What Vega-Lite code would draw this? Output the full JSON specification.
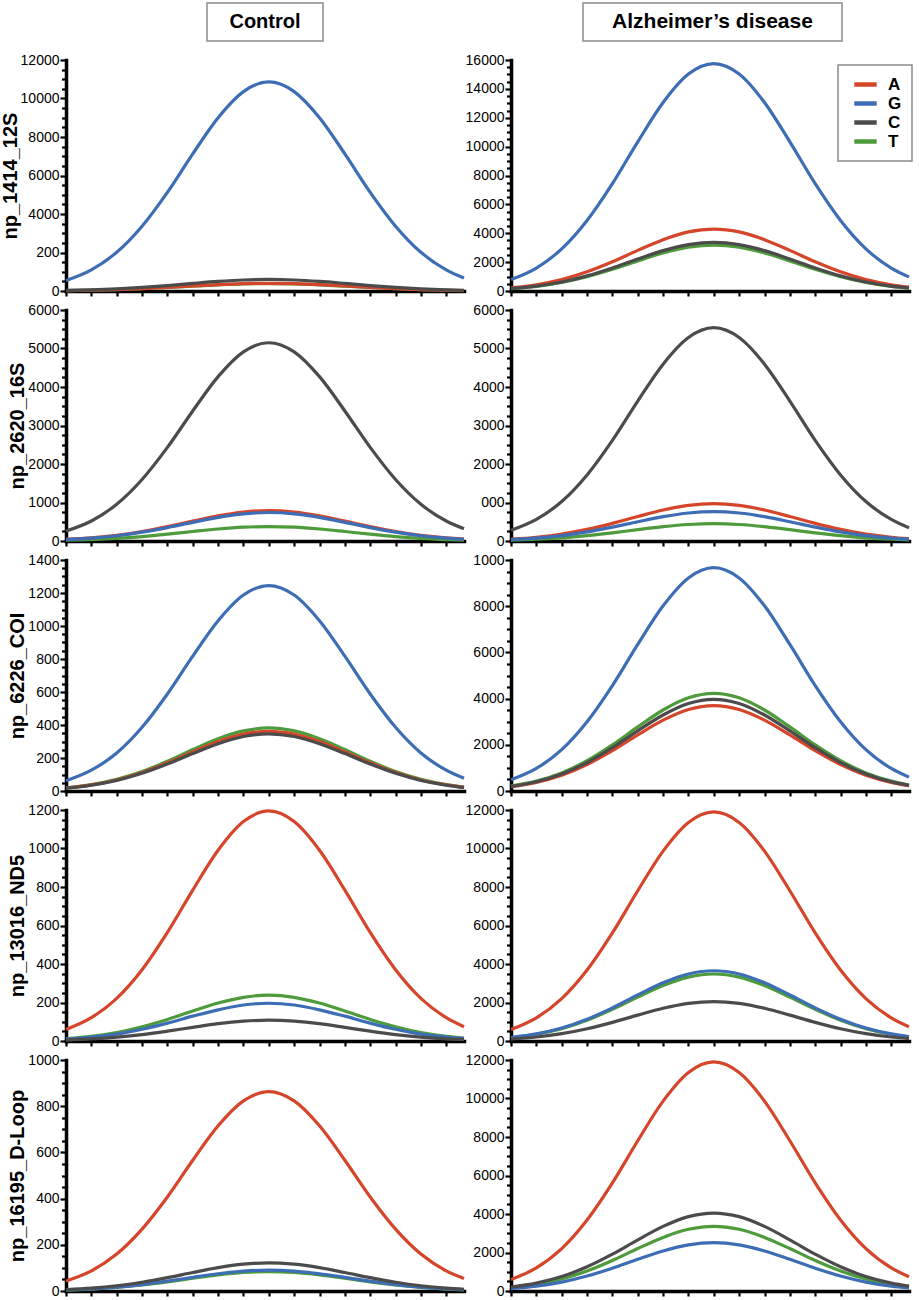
{
  "$schema": "https://vega.github.io/schema/vega-lite/v6.json",
  "padding": {"left": 0, "top": 2, "right": 0, "bottom": 0},
  "bounds": "flush",
  "columns": 2,
  "align": "each",
  "center": {"row": false, "column": true},
  "spacing": {"row": 19, "column": 47},
  "resolve": {"legend": {"color": "independent"}},
  "config": {
    "view": {"stroke": null},
    "axis": {
      "grid": false,
      "domainColor": "black",
      "domainWidth": 3.5,
      "domainCap": "square",
      "tickColor": "black",
      "tickWidth": 2.2,
      "tickSize": 6,
      "labelFont": "Liberation Sans",
      "labelFontSize": 14,
      "labelColor": "black",
      "labelPadding": 1,
      "labelOverlap": false,
      "titleFont": "Liberation Sans",
      "titleFontSize": 20,
      "titleFontWeight": "bold",
      "titleColor": "black",
      "titlePadding": 0
    },
    "legend": {
      "symbolType": "M-1.6,0H1.6",
      "symbolStrokeWidth": 4.5,
      "symbolSize": 196,
      "labelFont": "Liberation Sans",
      "labelFontSize": 17,
      "labelFontWeight": "bold",
      "labelColor": "black",
      "labelOffset": 13,
      "symbolOffset": 8,
      "strokeColor": "#8a8a8a",
      "strokeWidth": 1.5,
      "fillColor": "white",
      "padding": 10,
      "rowPadding": 0
    }
  },
  "data": {"values": [
    {"p":"1C","x":0,"A":20,"G":543,"C":30,"T":19},
    {"p":"1C","x":1,"A":40,"G":1097,"C":61,"T":39},
    {"p":"1C","x":2,"A":74,"G":2009,"C":111,"T":71},
    {"p":"1C","x":3,"A":124,"G":3367,"C":186,"T":119},
    {"p":"1C","x":4,"A":189,"G":5126,"C":283,"T":182},
    {"p":"1C","x":5,"A":262,"G":7124,"C":394,"T":253},
    {"p":"1C","x":6,"A":332,"G":9003,"C":497,"T":319},
    {"p":"1C","x":7,"A":382,"G":10360,"C":572,"T":367},
    {"p":"1C","x":8,"A":400,"G":10860,"C":600,"T":385},
    {"p":"1C","x":9,"A":382,"G":10360,"C":572,"T":367},
    {"p":"1C","x":10,"A":332,"G":9003,"C":497,"T":319},
    {"p":"1C","x":11,"A":262,"G":7124,"C":394,"T":253},
    {"p":"1C","x":12,"A":189,"G":5126,"C":283,"T":182},
    {"p":"1C","x":13,"A":124,"G":3367,"C":186,"T":119},
    {"p":"1C","x":14,"A":74,"G":2009,"C":111,"T":71},
    {"p":"1C","x":15,"A":40,"G":1097,"C":61,"T":39},
    {"p":"1C","x":15.7,"A":25,"G":673,"C":37,"T":24},

    {"p":"1A","x":0,"A":215,"G":788,"C":169,"T":159},
    {"p":"1A","x":1,"A":433,"G":1591,"C":340,"T":321},
    {"p":"1A","x":2,"A":794,"G":2914,"C":623,"T":588},
    {"p":"1A","x":3,"A":1330,"G":4883,"C":1045,"T":986},
    {"p":"1A","x":4,"A":2025,"G":7434,"C":1591,"T":1501},
    {"p":"1A","x":5,"A":2814,"G":10332,"C":2211,"T":2086},
    {"p":"1A","x":6,"A":3556,"G":13057,"C":2794,"T":2636},
    {"p":"1A","x":7,"A":4093,"G":15026,"C":3215,"T":3034},
    {"p":"1A","x":8,"A":4290,"G":15750,"C":3370,"T":3180},
    {"p":"1A","x":9,"A":4093,"G":15026,"C":3215,"T":3034},
    {"p":"1A","x":10,"A":3556,"G":13057,"C":2794,"T":2636},
    {"p":"1A","x":11,"A":2814,"G":10332,"C":2211,"T":2086},
    {"p":"1A","x":12,"A":2025,"G":7434,"C":1591,"T":1501},
    {"p":"1A","x":13,"A":1330,"G":4883,"C":1045,"T":986},
    {"p":"1A","x":14,"A":794,"G":2914,"C":623,"T":588},
    {"p":"1A","x":15,"A":433,"G":1591,"C":340,"T":321},
    {"p":"1A","x":15.7,"A":266,"G":977,"C":209,"T":197},

    {"p":"2C","x":0,"A":40,"G":37,"C":258,"T":19},
    {"p":"2C","x":1,"A":80,"G":75,"C":520,"T":38},
    {"p":"2C","x":2,"A":146,"G":137,"C":953,"T":69},
    {"p":"2C","x":3,"A":245,"G":229,"C":1597,"T":116},
    {"p":"2C","x":4,"A":373,"G":349,"C":2431,"T":177},
    {"p":"2C","x":5,"A":518,"G":485,"C":3378,"T":246},
    {"p":"2C","x":6,"A":655,"G":613,"C":4269,"T":311},
    {"p":"2C","x":7,"A":754,"G":706,"C":4913,"T":358},
    {"p":"2C","x":8,"A":790,"G":740,"C":5150,"T":375},
    {"p":"2C","x":9,"A":754,"G":706,"C":4913,"T":358},
    {"p":"2C","x":10,"A":655,"G":613,"C":4269,"T":311},
    {"p":"2C","x":11,"A":518,"G":485,"C":3378,"T":246},
    {"p":"2C","x":12,"A":373,"G":349,"C":2431,"T":177},
    {"p":"2C","x":13,"A":245,"G":229,"C":1597,"T":116},
    {"p":"2C","x":14,"A":146,"G":137,"C":953,"T":69},
    {"p":"2C","x":15,"A":80,"G":75,"C":520,"T":38},
    {"p":"2C","x":15.7,"A":49,"G":46,"C":319,"T":23},

    {"p":"2A","x":0,"A":49,"G":38,"C":277,"T":23},
    {"p":"2A","x":1,"A":98,"G":77,"C":560,"T":45},
    {"p":"2A","x":2,"A":179,"G":141,"C":1025,"T":83},
    {"p":"2A","x":3,"A":301,"G":236,"C":1717,"T":140},
    {"p":"2A","x":4,"A":458,"G":360,"C":2615,"T":212},
    {"p":"2A","x":5,"A":636,"G":500,"C":3634,"T":295},
    {"p":"2A","x":6,"A":804,"G":632,"C":4593,"T":373},
    {"p":"2A","x":7,"A":925,"G":727,"C":5285,"T":429},
    {"p":"2A","x":8,"A":970,"G":762,"C":5540,"T":450},
    {"p":"2A","x":9,"A":925,"G":727,"C":5285,"T":429},
    {"p":"2A","x":10,"A":804,"G":632,"C":4593,"T":373},
    {"p":"2A","x":11,"A":636,"G":500,"C":3634,"T":295},
    {"p":"2A","x":12,"A":458,"G":360,"C":2615,"T":212},
    {"p":"2A","x":13,"A":301,"G":236,"C":1717,"T":140},
    {"p":"2A","x":14,"A":179,"G":141,"C":1025,"T":83},
    {"p":"2A","x":15,"A":98,"G":77,"C":560,"T":45},
    {"p":"2A","x":15.7,"A":60,"G":47,"C":343,"T":28},

    {"p":"3C","x":0,"A":18,"G":62,"C":17,"T":19},
    {"p":"3C","x":1,"A":37,"G":126,"C":35,"T":39},
    {"p":"3C","x":2,"A":67,"G":230,"C":64,"T":71},
    {"p":"3C","x":3,"A":112,"G":386,"C":107,"T":118},
    {"p":"3C","x":4,"A":171,"G":588,"C":163,"T":180},
    {"p":"3C","x":5,"A":237,"G":817,"C":227,"T":251},
    {"p":"3C","x":6,"A":300,"G":1032,"C":287,"T":317},
    {"p":"3C","x":7,"A":345,"G":1188,"C":330,"T":364},
    {"p":"3C","x":8,"A":362,"G":1245,"C":346,"T":382},
    {"p":"3C","x":9,"A":345,"G":1188,"C":330,"T":364},
    {"p":"3C","x":10,"A":300,"G":1032,"C":287,"T":317},
    {"p":"3C","x":11,"A":237,"G":817,"C":227,"T":251},
    {"p":"3C","x":12,"A":171,"G":588,"C":163,"T":180},
    {"p":"3C","x":13,"A":112,"G":386,"C":107,"T":118},
    {"p":"3C","x":14,"A":67,"G":230,"C":64,"T":71},
    {"p":"3C","x":15,"A":37,"G":126,"C":35,"T":39},
    {"p":"3C","x":15.7,"A":22,"G":77,"C":21,"T":24},

    {"p":"3A","x":0,"A":185,"G":484,"C":199,"T":212},
    {"p":"3A","x":1,"A":374,"G":977,"C":401,"T":427},
    {"p":"3A","x":2,"A":685,"G":1789,"C":734,"T":783},
    {"p":"3A","x":3,"A":1147,"G":2998,"C":1231,"T":1311},
    {"p":"3A","x":4,"A":1746,"G":4564,"C":1874,"T":1997},
    {"p":"3A","x":5,"A":2427,"G":6344,"C":2604,"T":2775},
    {"p":"3A","x":6,"A":3067,"G":8016,"C":3291,"T":3507},
    {"p":"3A","x":7,"A":3530,"G":9225,"C":3787,"T":4035},
    {"p":"3A","x":8,"A":3700,"G":9670,"C":3970,"T":4230},
    {"p":"3A","x":9,"A":3530,"G":9225,"C":3787,"T":4035},
    {"p":"3A","x":10,"A":3067,"G":8016,"C":3291,"T":3507},
    {"p":"3A","x":11,"A":2427,"G":6344,"C":2604,"T":2775},
    {"p":"3A","x":12,"A":1746,"G":4564,"C":1874,"T":1997},
    {"p":"3A","x":13,"A":1147,"G":2998,"C":1231,"T":1311},
    {"p":"3A","x":14,"A":685,"G":1789,"C":734,"T":783},
    {"p":"3A","x":15,"A":374,"G":977,"C":401,"T":427},
    {"p":"3A","x":15.7,"A":229,"G":600,"C":246,"T":262},

    {"p":"4C","x":0,"A":60,"G":10,"C":5,"T":12},
    {"p":"4C","x":1,"A":121,"G":20,"C":11,"T":24},
    {"p":"4C","x":2,"A":221,"G":36,"C":20,"T":44},
    {"p":"4C","x":3,"A":370,"G":61,"C":33,"T":74},
    {"p":"4C","x":4,"A":564,"G":93,"C":51,"T":112},
    {"p":"4C","x":5,"A":784,"G":129,"C":71,"T":156},
    {"p":"4C","x":6,"A":991,"G":162,"C":90,"T":197},
    {"p":"4C","x":7,"A":1140,"G":187,"C":103,"T":227},
    {"p":"4C","x":8,"A":1195,"G":196,"C":108,"T":238},
    {"p":"4C","x":9,"A":1140,"G":187,"C":103,"T":227},
    {"p":"4C","x":10,"A":991,"G":162,"C":90,"T":197},
    {"p":"4C","x":11,"A":784,"G":129,"C":71,"T":156},
    {"p":"4C","x":12,"A":564,"G":93,"C":51,"T":112},
    {"p":"4C","x":13,"A":370,"G":61,"C":33,"T":74},
    {"p":"4C","x":14,"A":221,"G":36,"C":20,"T":44},
    {"p":"4C","x":15,"A":121,"G":20,"C":11,"T":24},
    {"p":"4C","x":15.7,"A":74,"G":12,"C":7,"T":15},

    {"p":"4A","x":0,"A":595,"G":183,"C":103,"T":174},
    {"p":"4A","x":1,"A":1202,"G":369,"C":207,"T":351},
    {"p":"4A","x":2,"A":2202,"G":675,"C":379,"T":644},
    {"p":"4A","x":3,"A":3689,"G":1132,"C":636,"T":1079},
    {"p":"4A","x":4,"A":5617,"G":1723,"C":968,"T":1643},
    {"p":"4A","x":5,"A":7806,"G":2394,"C":1345,"T":2283},
    {"p":"4A","x":6,"A":9865,"G":3026,"C":1699,"T":2885},
    {"p":"4A","x":7,"A":11353,"G":3482,"C":1956,"T":3320},
    {"p":"4A","x":8,"A":11900,"G":3650,"C":2050,"T":3480},
    {"p":"4A","x":9,"A":11353,"G":3482,"C":1956,"T":3320},
    {"p":"4A","x":10,"A":9865,"G":3026,"C":1699,"T":2885},
    {"p":"4A","x":11,"A":7806,"G":2394,"C":1345,"T":2283},
    {"p":"4A","x":12,"A":5617,"G":1723,"C":968,"T":1643},
    {"p":"4A","x":13,"A":3689,"G":1132,"C":636,"T":1079},
    {"p":"4A","x":14,"A":2202,"G":675,"C":379,"T":644},
    {"p":"4A","x":15,"A":1202,"G":369,"C":207,"T":351},
    {"p":"4A","x":15.7,"A":738,"G":226,"C":127,"T":216},

    {"p":"5C","x":0,"A":43,"G":4.5,"C":6.1,"T":4.2},
    {"p":"5C","x":1,"A":87,"G":9.1,"C":12.3,"T":8.5},
    {"p":"5C","x":2,"A":160,"G":16.7,"C":22.6,"T":15.5},
    {"p":"5C","x":3,"A":268,"G":27.9,"C":37.8,"T":26},
    {"p":"5C","x":4,"A":407,"G":42.5,"C":57.6,"T":39.6},
    {"p":"5C","x":5,"A":566,"G":59,"C":80,"T":55.1},
    {"p":"5C","x":6,"A":715,"G":74.6,"C":101,"T":69.6},
    {"p":"5C","x":7,"A":823,"G":85.9,"C":116,"T":80.1},
    {"p":"5C","x":8,"A":863,"G":90,"C":122,"T":84},
    {"p":"5C","x":9,"A":823,"G":85.9,"C":116,"T":80.1},
    {"p":"5C","x":10,"A":715,"G":74.6,"C":101,"T":69.6},
    {"p":"5C","x":11,"A":566,"G":59,"C":80,"T":55.1},
    {"p":"5C","x":12,"A":407,"G":42.5,"C":57.6,"T":39.6},
    {"p":"5C","x":13,"A":268,"G":27.9,"C":37.8,"T":26},
    {"p":"5C","x":14,"A":160,"G":16.7,"C":22.6,"T":15.5},
    {"p":"5C","x":15,"A":87,"G":9.1,"C":12.3,"T":8.5},
    {"p":"5C","x":15.7,"A":54,"G":5.6,"C":7.6,"T":5.2},

    {"p":"5A","x":0,"A":595,"G":126,"C":203,"T":168},
    {"p":"5A","x":1,"A":1202,"G":254,"C":409,"T":339},
    {"p":"5A","x":2,"A":2202,"G":464,"C":749,"T":622},
    {"p":"5A","x":3,"A":3689,"G":778,"C":1256,"T":1042},
    {"p":"5A","x":4,"A":5617,"G":1185,"C":1912,"T":1586},
    {"p":"5A","x":5,"A":7806,"G":1647,"C":2657,"T":2204},
    {"p":"5A","x":6,"A":9865,"G":2081,"C":3357,"T":2785},
    {"p":"5A","x":7,"A":11353,"G":2395,"C":3864,"T":3205},
    {"p":"5A","x":8,"A":11900,"G":2510,"C":4050,"T":3360},
    {"p":"5A","x":9,"A":11353,"G":2395,"C":3864,"T":3205},
    {"p":"5A","x":10,"A":9865,"G":2081,"C":3357,"T":2785},
    {"p":"5A","x":11,"A":7806,"G":1647,"C":2657,"T":2204},
    {"p":"5A","x":12,"A":5617,"G":1185,"C":1912,"T":1586},
    {"p":"5A","x":13,"A":3689,"G":778,"C":1256,"T":1042},
    {"p":"5A","x":14,"A":2202,"G":464,"C":749,"T":622},
    {"p":"5A","x":15,"A":1202,"G":254,"C":409,"T":339},
    {"p":"5A","x":15.7,"A":738,"G":156,"C":251,"T":208}
  ]},
  "concat": [
    {
      "width": 116, "height": 38,
      "view": {"stroke": "#8a8a8a", "strokeWidth": 1.5},
      "data": {"values": [{"h": "Control"}]},
      "mark": {"type": "text", "font": "Liberation Sans", "fontSize": 20, "fontWeight": "bold", "color": "black"},
      "encoding": {"text": {"field": "h"}}
    },
    {
      "bounds": "flush",
      "spacing": 0,
      "hconcat": [
        {
          "width": 72, "height": 38,
          "data": {"values": [{"h": ""}]},
          "mark": {"type": "text"},
          "encoding": {"text": {"field": "h"}}
        },
        {
          "width": 259, "height": 38,
          "view": {"stroke": "#8a8a8a", "strokeWidth": 1.5},
          "data": {"values": [{"h": "Alzheimer’s disease"}]},
          "mark": {"type": "text", "font": "Liberation Sans", "fontSize": 21, "fontWeight": "bold", "color": "black"},
          "encoding": {"text": {"field": "h"}}
        }
      ]
    },
    {
      "width": 398, "height": 231,
      "transform": [{"filter": "datum.p === '1C'"}, {"fold": ["T", "A", "G", "C"], "as": ["s", "v"]}],
      "mark": {"type": "line", "interpolate": "monotone", "strokeWidth": 3.2},
      "encoding": {
        "x": {"field": "x", "type": "quantitative", "scale": {"domain": [0, 15.7], "nice": false, "zero": false},
              "axis": {"title": null, "labels": false, "tickSize": 5, "values": [0,1,2,3,4,5,6,7,8,9,10,11,12,13,14,15]}},
        "y": {"field": "v", "type": "quantitative", "scale": {"domain": [0, 12000], "nice": false},
              "axis": {"title": "np_1414_12S", "format": "d",
                       "values": [0,500,1000,1500,2000,2500,3000,3500,4000,4500,5000,5500,6000,6500,7000,7500,8000,8500,9000,9500,10000,10500,11000,11500,12000],
                       "labelExpr": "datum.value % 2000 !== 0 ? '' : datum.value === 2000 ? '200' : datum.label",
                       "tickDash": {"condition": {"test": "datum.value % 2000 !== 0", "value": [4.5, 20]}, "value": [20, 0]}}},
        "color": {"field": "s", "type": "nominal", "scale": {"domain": ["A", "G", "C", "T"], "range": ["#d4452a", "#3d6db4", "#4b4b4b", "#4e9b3b"]}, "legend": null}
      }
    },
    {
      "width": 398, "height": 231,
      "transform": [{"filter": "datum.p === '1A'"}, {"fold": ["T", "A", "G", "C"], "as": ["s", "v"]}],
      "mark": {"type": "line", "interpolate": "monotone", "strokeWidth": 3.2},
      "encoding": {
        "x": {"field": "x", "type": "quantitative", "scale": {"domain": [0, 15.7], "nice": false, "zero": false},
              "axis": {"title": null, "labels": false, "tickSize": 5, "values": [0,1,2,3,4,5,6,7,8,9,10,11,12,13,14,15]}},
        "y": {"field": "v", "type": "quantitative", "scale": {"domain": [0, 16000], "nice": false},
              "axis": {"title": null, "format": "d",
                       "values": [0,500,1000,1500,2000,2500,3000,3500,4000,4500,5000,5500,6000,6500,7000,7500,8000,8500,9000,9500,10000,10500,11000,11500,12000,12500,13000,13500,14000,14500,15000,15500,16000],
                       "labelExpr": "datum.value % 2000 !== 0 ? '' : datum.label",
                       "tickDash": {"condition": {"test": "datum.value % 2000 !== 0", "value": [4.5, 20]}, "value": [20, 0]}}},
        "color": {"field": "s", "type": "nominal", "scale": {"domain": ["A", "G", "C", "T"], "range": ["#d4452a", "#3d6db4", "#4b4b4b", "#4e9b3b"]},
                  "legend": {"orient": "none", "legendX": 327, "legendY": 5, "title": null}}
      }
    },
    {
      "width": 398, "height": 231,
      "transform": [{"filter": "datum.p === '2C'"}, {"fold": ["T", "A", "G", "C"], "as": ["s", "v"]}],
      "mark": {"type": "line", "interpolate": "monotone", "strokeWidth": 3.2},
      "encoding": {
        "x": {"field": "x", "type": "quantitative", "scale": {"domain": [0, 15.7], "nice": false, "zero": false},
              "axis": {"title": null, "labels": false, "tickSize": 5, "values": [0,1,2,3,4,5,6,7,8,9,10,11,12,13,14,15]}},
        "y": {"field": "v", "type": "quantitative", "scale": {"domain": [0, 6000], "nice": false},
              "axis": {"title": "np_2620_16S", "format": "d",
                       "values": [0,250,500,750,1000,1250,1500,1750,2000,2250,2500,2750,3000,3250,3500,3750,4000,4250,4500,4750,5000,5250,5500,5750,6000],
                       "labelExpr": "datum.value % 1000 !== 0 ? '' : datum.label",
                       "tickDash": {"condition": {"test": "datum.value % 1000 !== 0", "value": [4.5, 20]}, "value": [20, 0]}}},
        "color": {"field": "s", "type": "nominal", "scale": {"domain": ["A", "G", "C", "T"], "range": ["#d4452a", "#3d6db4", "#4b4b4b", "#4e9b3b"]}, "legend": null}
      }
    },
    {
      "width": 398, "height": 231,
      "transform": [{"filter": "datum.p === '2A'"}, {"fold": ["T", "A", "G", "C"], "as": ["s", "v"]}],
      "mark": {"type": "line", "interpolate": "monotone", "strokeWidth": 3.2},
      "encoding": {
        "x": {"field": "x", "type": "quantitative", "scale": {"domain": [0, 15.7], "nice": false, "zero": false},
              "axis": {"title": null, "labels": false, "tickSize": 5, "values": [0,1,2,3,4,5,6,7,8,9,10,11,12,13,14,15]}},
        "y": {"field": "v", "type": "quantitative", "scale": {"domain": [0, 6000], "nice": false},
              "axis": {"title": null, "format": "d",
                       "values": [0,250,500,750,1000,1250,1500,1750,2000,2250,2500,2750,3000,3250,3500,3750,4000,4250,4500,4750,5000,5250,5500,5750,6000],
                       "labelExpr": "datum.value % 1000 !== 0 ? '' : datum.value === 1000 ? '000' : datum.label",
                       "tickDash": {"condition": {"test": "datum.value % 1000 !== 0", "value": [4.5, 20]}, "value": [20, 0]}}},
        "color": {"field": "s", "type": "nominal", "scale": {"domain": ["A", "G", "C", "T"], "range": ["#d4452a", "#3d6db4", "#4b4b4b", "#4e9b3b"]}, "legend": null}
      }
    },
    {
      "width": 398, "height": 231,
      "transform": [{"filter": "datum.p === '3C'"}, {"fold": ["T", "A", "G", "C"], "as": ["s", "v"]}],
      "mark": {"type": "line", "interpolate": "monotone", "strokeWidth": 3.2},
      "encoding": {
        "x": {"field": "x", "type": "quantitative", "scale": {"domain": [0, 15.7], "nice": false, "zero": false},
              "axis": {"title": null, "labels": false, "tickSize": 5, "values": [0,1,2,3,4,5,6,7,8,9,10,11,12,13,14,15]}},
        "y": {"field": "v", "type": "quantitative", "scale": {"domain": [0, 1400], "nice": false},
              "axis": {"title": "np_6226_COI", "format": "d",
                       "values": [0,50,100,150,200,250,300,350,400,450,500,550,600,650,700,750,800,850,900,950,1000,1050,1100,1150,1200,1250,1300,1350,1400],
                       "labelExpr": "datum.value % 200 !== 0 ? '' : datum.label",
                       "tickDash": {"condition": {"test": "datum.value % 200 !== 0", "value": [4.5, 20]}, "value": [20, 0]}}},
        "color": {"field": "s", "type": "nominal", "scale": {"domain": ["A", "G", "C", "T"], "range": ["#d4452a", "#3d6db4", "#4b4b4b", "#4e9b3b"]}, "legend": null}
      }
    },
    {
      "width": 398, "height": 231,
      "transform": [{"filter": "datum.p === '3A'"}, {"fold": ["T", "A", "G", "C"], "as": ["s", "v"]}],
      "mark": {"type": "line", "interpolate": "monotone", "strokeWidth": 3.2},
      "encoding": {
        "x": {"field": "x", "type": "quantitative", "scale": {"domain": [0, 15.7], "nice": false, "zero": false},
              "axis": {"title": null, "labels": false, "tickSize": 5, "values": [0,1,2,3,4,5,6,7,8,9,10,11,12,13,14,15]}},
        "y": {"field": "v", "type": "quantitative", "scale": {"domain": [0, 10000], "nice": false},
              "axis": {"title": null, "format": "d",
                       "values": [0,500,1000,1500,2000,2500,3000,3500,4000,4500,5000,5500,6000,6500,7000,7500,8000,8500,9000,9500,10000],
                       "labelExpr": "datum.value % 2000 !== 0 ? '' : datum.value === 10000 ? '1000' : datum.label",
                       "tickDash": {"condition": {"test": "datum.value % 2000 !== 0", "value": [4.5, 20]}, "value": [20, 0]}}},
        "color": {"field": "s", "type": "nominal", "scale": {"domain": ["A", "G", "C", "T"], "range": ["#d4452a", "#3d6db4", "#4b4b4b", "#4e9b3b"]}, "legend": null}
      }
    },
    {
      "width": 398, "height": 231,
      "transform": [{"filter": "datum.p === '4C'"}, {"fold": ["T", "A", "G", "C"], "as": ["s", "v"]}],
      "mark": {"type": "line", "interpolate": "monotone", "strokeWidth": 3.2},
      "encoding": {
        "x": {"field": "x", "type": "quantitative", "scale": {"domain": [0, 15.7], "nice": false, "zero": false},
              "axis": {"title": null, "labels": false, "tickSize": 5, "values": [0,1,2,3,4,5,6,7,8,9,10,11,12,13,14,15]}},
        "y": {"field": "v", "type": "quantitative", "scale": {"domain": [0, 1200], "nice": false},
              "axis": {"title": "np_13016_ND5", "format": "d",
                       "values": [0,50,100,150,200,250,300,350,400,450,500,550,600,650,700,750,800,850,900,950,1000,1050,1100,1150,1200],
                       "labelExpr": "datum.value % 200 !== 0 ? '' : datum.label",
                       "tickDash": {"condition": {"test": "datum.value % 200 !== 0", "value": [4.5, 20]}, "value": [20, 0]}}},
        "color": {"field": "s", "type": "nominal", "scale": {"domain": ["A", "G", "C", "T"], "range": ["#d4452a", "#3d6db4", "#4b4b4b", "#4e9b3b"]}, "legend": null}
      }
    },
    {
      "width": 398, "height": 231,
      "transform": [{"filter": "datum.p === '4A'"}, {"fold": ["T", "A", "G", "C"], "as": ["s", "v"]}],
      "mark": {"type": "line", "interpolate": "monotone", "strokeWidth": 3.2},
      "encoding": {
        "x": {"field": "x", "type": "quantitative", "scale": {"domain": [0, 15.7], "nice": false, "zero": false},
              "axis": {"title": null, "labels": false, "tickSize": 5, "values": [0,1,2,3,4,5,6,7,8,9,10,11,12,13,14,15]}},
        "y": {"field": "v", "type": "quantitative", "scale": {"domain": [0, 12000], "nice": false},
              "axis": {"title": null, "format": "d",
                       "values": [0,500,1000,1500,2000,2500,3000,3500,4000,4500,5000,5500,6000,6500,7000,7500,8000,8500,9000,9500,10000,10500,11000,11500,12000],
                       "labelExpr": "datum.value % 2000 !== 0 ? '' : datum.label",
                       "tickDash": {"condition": {"test": "datum.value % 2000 !== 0", "value": [4.5, 20]}, "value": [20, 0]}}},
        "color": {"field": "s", "type": "nominal", "scale": {"domain": ["A", "G", "C", "T"], "range": ["#d4452a", "#3d6db4", "#4b4b4b", "#4e9b3b"]}, "legend": null}
      }
    },
    {
      "width": 398, "height": 231,
      "transform": [{"filter": "datum.p === '5C'"}, {"fold": ["T", "A", "G", "C"], "as": ["s", "v"]}],
      "mark": {"type": "line", "interpolate": "monotone", "strokeWidth": 3.2},
      "encoding": {
        "x": {"field": "x", "type": "quantitative", "scale": {"domain": [0, 15.7], "nice": false, "zero": false},
              "axis": {"title": null, "labels": false, "tickSize": 5, "values": [0,1,2,3,4,5,6,7,8,9,10,11,12,13,14,15]}},
        "y": {"field": "v", "type": "quantitative", "scale": {"domain": [0, 1000], "nice": false},
              "axis": {"title": "np_16195_D-Loop", "format": "d",
                       "values": [0,50,100,150,200,250,300,350,400,450,500,550,600,650,700,750,800,850,900,950,1000],
                       "labelExpr": "datum.value % 200 !== 0 ? '' : datum.label",
                       "tickDash": {"condition": {"test": "datum.value % 200 !== 0", "value": [4.5, 20]}, "value": [20, 0]}}},
        "color": {"field": "s", "type": "nominal", "scale": {"domain": ["A", "G", "C", "T"], "range": ["#d4452a", "#3d6db4", "#4b4b4b", "#4e9b3b"]}, "legend": null}
      }
    },
    {
      "width": 398, "height": 231,
      "transform": [{"filter": "datum.p === '5A'"}, {"fold": ["T", "A", "G", "C"], "as": ["s", "v"]}],
      "mark": {"type": "line", "interpolate": "monotone", "strokeWidth": 3.2},
      "encoding": {
        "x": {"field": "x", "type": "quantitative", "scale": {"domain": [0, 15.7], "nice": false, "zero": false},
              "axis": {"title": null, "labels": false, "tickSize": 5, "values": [0,1,2,3,4,5,6,7,8,9,10,11,12,13,14,15]}},
        "y": {"field": "v", "type": "quantitative", "scale": {"domain": [0, 12000], "nice": false},
              "axis": {"title": null, "format": "d",
                       "values": [0,500,1000,1500,2000,2500,3000,3500,4000,4500,5000,5500,6000,6500,7000,7500,8000,8500,9000,9500,10000,10500,11000,11500,12000],
                       "labelExpr": "datum.value % 2000 !== 0 ? '' : datum.label",
                       "tickDash": {"condition": {"test": "datum.value % 2000 !== 0", "value": [4.5, 20]}, "value": [20, 0]}}},
        "color": {"field": "s", "type": "nominal", "scale": {"domain": ["A", "G", "C", "T"], "range": ["#d4452a", "#3d6db4", "#4b4b4b", "#4e9b3b"]}, "legend": null}
      }
    }
  ]
}
